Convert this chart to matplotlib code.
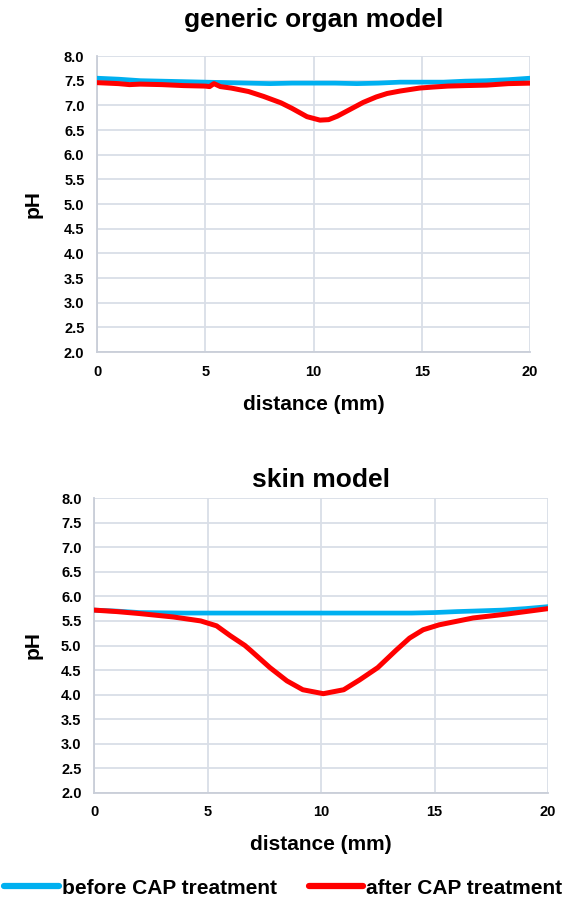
import matplotlib
matplotlib.use("Agg")
import matplotlib.pyplot as plt
from matplotlib.lines import Line2D

plt.rcParams['font.family'] = ['Liberation Sans', 'DejaVu Sans']
plt.rcParams['font.weight'] = 'bold'

# ---- data: generic organ model ----
organ_before_x = [0, 1, 2, 3, 4, 5, 6, 7, 8, 9, 10, 11, 12, 13, 14, 15, 16, 17, 18, 19, 20]
organ_before_y = [7.55, 7.53, 7.50, 7.49, 7.48, 7.47, 7.46, 7.45, 7.44, 7.45, 7.45,
                  7.45, 7.44, 7.45, 7.47, 7.47, 7.47, 7.49, 7.50, 7.52, 7.55]
organ_after_x = [0, 1, 1.5, 2, 3, 4, 5, 5.2, 5.4, 5.7, 6.2, 7, 7.7, 8.5, 9.0, 9.7, 10.3,
                 10.7, 11.1, 11.7, 12.3, 12.9, 13.4, 14, 14.9, 15.5, 16.2, 17, 18, 19, 20]
organ_after_y = [7.46, 7.44, 7.42, 7.43, 7.42, 7.40, 7.39, 7.38, 7.44, 7.38, 7.35, 7.28,
                 7.18, 7.05, 6.94, 6.77, 6.70, 6.71, 6.78, 6.92, 7.06, 7.17, 7.24, 7.29,
                 7.35, 7.37, 7.39, 7.40, 7.41, 7.44, 7.45]

# ---- data: skin model ----
skin_before_x = [0, 1, 2, 4, 6, 8, 10, 12, 14, 15, 16, 16.7, 18, 19, 20]
skin_before_y = [5.72, 5.70, 5.67, 5.66, 5.66, 5.66, 5.66, 5.66, 5.66, 5.67, 5.69, 5.70,
                 5.72, 5.75, 5.79]
skin_after_x = [0, 1, 2, 3.5, 4.7, 5.4, 6.0, 6.65, 6.9, 7.75, 8.5, 9.2, 10.1, 11.0,
                11.7, 12.5, 13.3, 13.9, 14.5, 15.2, 16.7, 18.2, 20]
skin_after_y = [5.72, 5.69, 5.65, 5.58, 5.50, 5.40, 5.20, 5.00, 4.90, 4.55, 4.28, 4.10,
                4.02, 4.10, 4.30, 4.55, 4.90, 5.15, 5.32, 5.42, 5.56, 5.64, 5.75]

x_ticks = [0, 5, 10, 15, 20]
y_ticks = [2.0, 2.5, 3.0, 3.5, 4.0, 4.5, 5.0, 5.5, 6.0, 6.5, 7.0, 7.5, 8.0]
titles = ["generic organ model", "skin model"]
series_labels = ["before CAP treatment", "after CAP treatment"]

BLUE = "#00B0F0"
RED = "#FF0000"
GRID = "#D9DEE7"

W, H = 577, 899
fig = plt.figure(figsize=(W / 100, H / 100), dpi=100)

# axes rectangles in pixels: left, top, right, bottom
rects = [(97, 56, 530, 352), (94, 498, 548, 793)]
datasets = [
    (organ_before_x, organ_before_y, organ_after_x, organ_after_y),
    (skin_before_x, skin_before_y, skin_after_x, skin_after_y),
]
title_y = [20, 480]
xlabel_y = [405, 845]

for i, ((l, t, r, b), (bx, by, ax_, ay)) in enumerate(zip(rects, datasets)):
    ax = fig.add_axes([l / W, 1 - b / H, (r - l) / W, (b - t) / H])
    ax.plot(bx, by, color=BLUE, lw=3.4, solid_capstyle='round', zorder=3)
    ax.plot(ax_, ay, color=RED, lw=3.6, solid_capstyle='round', zorder=4)
    ax.set_xlim(0, 20)
    ax.set_ylim(2.0, 8.0)
    ax.set_xticks(x_ticks)
    ax.set_xticklabels([str(v) for v in x_ticks])
    ax.set_yticks(y_ticks)
    ax.set_yticklabels([f"{v:.1f}" for v in y_ticks])
    ax.tick_params(length=0, labelsize=10.5, pad=9)
    for lab in ax.get_xticklabels() + ax.get_yticklabels():
        lab.set_fontweight('bold')
    ax.grid(True, color=GRID, lw=1.3)
    ax.set_axisbelow(True)
    for s in ['top', 'right']:
        ax.spines[s].set_visible(False)
    for s in ['left', 'bottom']:
        ax.spines[s].set_color("#C9CED8")
        ax.spines[s].set_linewidth(1.3)
    fig.text(33 / W, 1 - (t + b) / 2 / H, "pH", rotation=90, ha='center', va='center',
             fontsize=15, fontweight='bold')
    fig.text((l + r) / 2 / W, 1 - title_y[i] / H, titles[i], ha='center', va='center',
             fontsize=19, fontweight='bold')
    fig.text((l + r) / 2 / W, 1 - xlabel_y[i] / H, "distance (mm)", ha='center',
             va='center', fontsize=15, fontweight='bold')

handles = [Line2D([], [], color=BLUE, lw=4.5, solid_capstyle='round'),
           Line2D([], [], color=RED, lw=4.5, solid_capstyle='round')]
fig.legend(handles, series_labels, loc='center', bbox_to_anchor=(283.5 / W, 1 - 888 / H),
           ncol=2, frameon=False, handlelength=2.6, handletextpad=0.15,
           columnspacing=1.55, borderaxespad=0, borderpad=0,
           prop={'weight': 'bold', 'size': 15})

fig.savefig("out.png", dpi=100)
